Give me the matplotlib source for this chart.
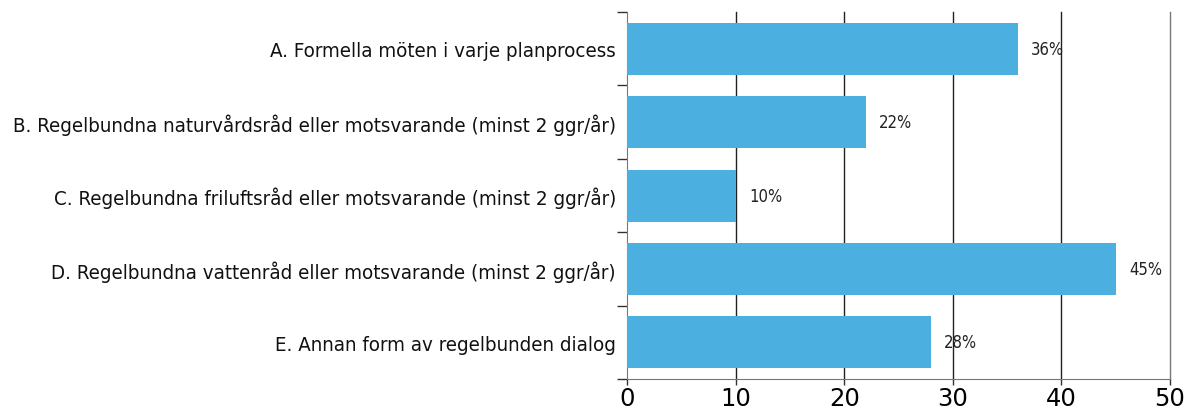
import numpy as np
import matplotlib.pyplot as plt

categories = [
    "A. Formella möten i varje planprocess",
    "B. Regelbundna naturvårdsråd eller motsvarande (minst 2 ggr/år)",
    "C. Regelbundna friluftsråd eller motsvarande (minst 2 ggr/år)",
    "D. Regelbundna vattenråd eller motsvarande (minst 2 ggr/år)",
    "E. Annan form av regelbunden dialog",
]
values = [36, 22, 10, 45, 28]
xticks = [0, 10, 20, 30, 40, 50]

fig = plt.figure(figsize=(11.84, 4.10), dpi=100)
ax = fig.add_axes([0.5296, 0.0732, 0.4586, 0.8948])

y = np.arange(len(categories))
ax.barh(y, values, height=0.71, color="#4BAFDF", zorder=3)
for yi, v in zip(y, values):
    ax.annotate(f"{v}%", (v, yi), xytext=(9.5, 0), textcoords="offset points",
                va="center", ha="left", fontsize=12, fontstretch="condensed",
                color="#222222")

ax.set_xlim(0, 50)
ax.set_ylim(len(categories) - 0.5, -0.5)
ax.set_xticks(xticks)
ax.set_xticklabels([str(t) for t in xticks], fontsize=17.5)

ax.set_yticks(y)
ax.set_yticklabels(categories, fontsize=14.7, fontstretch="condensed", color="#111111")
ax.tick_params(axis="y", which="major", length=0, pad=8)
ax.set_yticks(np.arange(len(categories) + 1) - 0.5, minor=True)
ax.tick_params(axis="y", which="minor", length=7, width=1, color="#333333")
ax.tick_params(axis="x", length=4, width=1, color="#333333", pad=1)

for t in xticks[1:]:
    ax.axvline(t, color="#222222" if t < 50 else "#777777", lw=1, zorder=1,
               clip_on=False)

ax.spines["top"].set_visible(False)
ax.spines["right"].set_visible(False)
ax.spines["left"].set_color("#777777")
ax.spines["bottom"].set_color("#777777")

fig.savefig("out.png", dpi=100)
